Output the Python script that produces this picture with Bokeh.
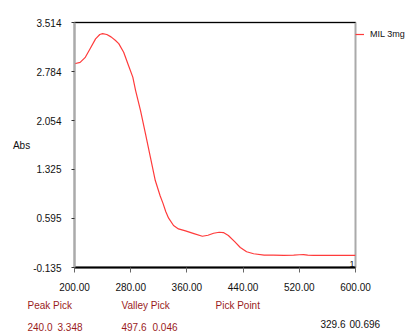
from bokeh.plotting import figure
from bokeh.layouts import column
from bokeh.models import (Range1d, FixedTicker, Label, Legend, LegendItem, LinearAxis,
                          CustomJSTickFormatter)
from bokeh.core.properties import value
from bokeh.embed import file_html
from bokeh.resources import INLINE

# ---- data ----
wavelength = [200, 208, 215, 222, 230, 236, 240, 246, 252, 258, 263, 270, 277, 283, 287,
              294, 301, 308, 315, 322, 326, 330, 334, 341, 348, 358, 370, 382, 390, 398,
              406, 412, 419, 428, 436, 445, 455, 470, 483, 498, 512, 520, 526, 532, 540, 600]
absorbance = [2.90, 2.92, 2.99, 3.12, 3.27, 3.335, 3.348, 3.335, 3.30, 3.25, 3.20, 3.07, 2.87,
              2.70, 2.50, 2.20, 1.86, 1.51, 1.16, 0.93, 0.82, 0.696, 0.60, 0.49, 0.44, 0.41,
              0.37, 0.33, 0.345, 0.375, 0.39, 0.385, 0.342, 0.25, 0.163, 0.10, 0.07, 0.05,
              0.048, 0.046, 0.048, 0.055, 0.058, 0.05, 0.046, 0.046]
y_ticks = [-0.135, 0.595, 1.325, 2.054, 2.784, 3.514]
x_ticks = [200, 280, 360, 440, 520, 600]
series_name = "MIL 3mg"
pick_headers = ["Peak Pick", "Valley Pick", "Pick Point"]
peak_pick = ["240.0", "3.348"]
valley_pick = ["497.6", "0.046"]
pick_point = ["329.6", "00.696"]

FONT = "Liberation Sans"
DARKRED = "#9a1c1c"
TXT = "#111111"

p = figure(width=419, height=296, frame_width=281, frame_height=245,
           output_backend="svg", toolbar_location=None,
           x_range=Range1d(200, 600), y_range=Range1d(-0.135, 3.514),
           min_border_left=74, min_border_right=64, min_border_top=22, min_border_bottom=29)
p.frame_align = False
p.outline_line_color = "#aaaaaa"
p.outline_line_width = 2
p.grid.visible = False
p.background_fill_color = "white"

# axes
p.xaxis.ticker = FixedTicker(ticks=x_ticks)
p.xaxis.formatter = CustomJSTickFormatter(code="return tick.toFixed(2);")
p.xaxis.axis_line_color = "black"
p.xaxis.axis_line_width = 2
p.xaxis.major_tick_line_color = "#666666"
p.xaxis.major_tick_out = 5
p.xaxis.major_tick_in = 0
p.xaxis.minor_tick_line_color = None
p.xaxis.major_label_standoff = 10
p.xaxis.major_label_text_font = FONT
p.xaxis.major_label_text_font_size = "10px"
p.xaxis.major_label_text_color = TXT

p.yaxis.ticker = FixedTicker(ticks=y_ticks)
p.yaxis.formatter = CustomJSTickFormatter(code="return tick.toFixed(3);")
p.yaxis.axis_line_color = "#aaaaaa"
p.yaxis.axis_line_width = 2
p.yaxis.major_tick_line_color = "#333333"
p.yaxis.major_tick_out = 3
p.yaxis.major_tick_in = 0
p.yaxis.minor_tick_line_color = None
p.yaxis.major_label_standoff = 10
p.yaxis.major_label_text_font = FONT
p.yaxis.major_label_text_font_size = "10px"
p.yaxis.major_label_text_color = TXT
p.yaxis.axis_label = "Abs"
p.yaxis.axis_label_orientation = "horizontal"
p.yaxis.axis_label_standoff = 0
p.yaxis.axis_label_text_font = FONT
p.yaxis.axis_label_text_font_size = "10px"
p.yaxis.axis_label_text_font_style = "normal"
p.yaxis.axis_label_text_color = TXT

# top border (black)
top = LinearAxis(ticker=FixedTicker(ticks=x_ticks), major_label_text_font_size="1px",
                 major_label_text_alpha=0,
                 major_tick_out=0, major_tick_in=0, major_label_standoff=0,
                 minor_tick_line_color=None,
                 axis_line_color="black", axis_line_width=1)
p.add_layout(top, "above")

r = p.line(wavelength, absorbance, line_color="#ff3b3b", line_width=1.2)

legend = Legend(items=[LegendItem(label=series_name, renderers=[r])],
                location="top_left", margin=0, padding=7, border_line_color=None,
                background_fill_alpha=0, glyph_width=9, glyph_height=24,
                label_standoff=6, label_text_font=FONT, label_text_font_size="9px",
                label_text_color=TXT)
p.add_layout(legend, "right")

p.add_layout(Label(x=x_ticks[-1], y=y_ticks[0], text="1", text_font=FONT,
                   text_font_size="9px", text_color=TXT, text_align="right",
                   text_baseline="bottom", x_offset=-1, y_offset=1))

# ---- lower strip with the pick tables (pixel coordinates of the strip) ----
t = figure(frame_width=419, frame_height=35, output_backend="svg", toolbar_location=None,
           x_range=Range1d(0, 419), y_range=Range1d(35, 0),
           x_axis_type=None, y_axis_type=None,
           min_border_left=0, min_border_right=0, min_border_top=0, min_border_bottom=0,
           outline_line_color=None)
t.frame_align = False
t.grid.visible = False

red_texts = pick_headers + peak_pick + valley_pick
red_x = [27, 121, 215, 27, 57, 121, 152]
red_y = [9, 9, 9, 30, 30, 30, 30]
t.text(x=red_x, y=red_y, text=red_texts, text_color=DARKRED, text_font_size="10px",
       text_baseline="middle", text_font=value(FONT))
t.text(x=[320, 349], y=[27, 27], text=pick_point, text_color=TXT, text_font_size="10px",
       text_baseline="middle", text_font=value(FONT))

layout = column(p, t, spacing=0)
open("out.html", "w").write(file_html(layout, INLINE))
